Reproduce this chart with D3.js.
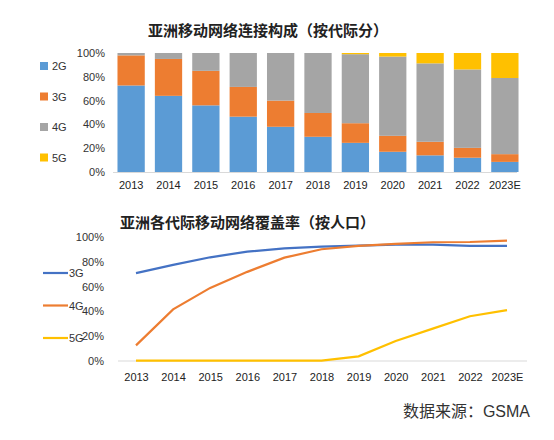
<!DOCTYPE html>
<html><head><meta charset="utf-8">
<script src="https://cdn.jsdelivr.net/npm/d3@7"></script>
<style>body{margin:0;background:#fff}text{font-family:"Liberation Sans","Noto Sans CJK SC",sans-serif}</style>
</head><body>
<script>
const years = ["2013","2014","2015","2016","2017","2018","2019","2020","2021","2022","2023E"];
const share2G = [72.7,64,56,46.5,38,29.6,24.5,17,14,12,8.5];
const share3G = [25.3,31,29,25,22,20,16.5,13.4,11.4,8.3,6.5];
const share4G = [2,5,15,28.5,40,50.4,58,66.6,65.9,65.9,64];
const share5G = [0,0,0,0,0,0,1,3,8.7,13.8,21];
const cov3G = [71,77.6,83.8,88.4,91,92.4,93.2,94,94,93,93];
const cov4G = [12.4,41.6,59,72,83.5,90.3,93,94.6,96,96.2,97.3];
const cov5G = [0,0,0,0,0,0,3.5,16,26,36,41];
const pctTicks = [0,20,40,60,80,100];
const colors = {"2G":"#5b9bd5","3G":"#ed7d31","4G":"#a5a5a5","5G":"#ffc000"};

const W=554,H=440;
const svg=d3.select("body").append("svg").attr("width",W).attr("height",H);

// top: stacked bars
svg.append("text").attr("x",268).attr("y",36).attr("text-anchor","middle")
  .attr("font-size",15).attr("font-weight","bold").attr("fill","#222").text("亚洲移动网络连接构成（按代际分）");
const x1=d3.scaleBand().domain(years).range([113,523]).paddingInner(0.27).paddingOuter(0.12);
const y1=d3.scaleLinear().domain([0,100]).range([172,53]);
svg.append("g").attr("transform","translate(108,0)")
  .call(d3.axisLeft(y1).tickValues(pctTicks).tickFormat(d=>d+"%").tickSize(0))
  .call(g=>g.select(".domain").remove())
  .call(g=>g.selectAll("text").attr("font-size",11).attr("fill","#333"));
const stackData=years.map((y,i)=>({year:y,"2G":share2G[i],"3G":share3G[i],"4G":share4G[i],"5G":share5G[i]}));
const keys=["2G","3G","4G","5G"];
const series=d3.stack().keys(keys)(stackData);
svg.append("g").selectAll("g").data(series).join("g").attr("fill",d=>colors[d.key])
  .selectAll("rect").data(d=>d).join("rect")
  .attr("x",d=>x1(d.data.year)).attr("width",x1.bandwidth())
  .attr("y",d=>y1(d[1])).attr("height",d=>y1(d[0])-y1(d[1]));
svg.append("line").attr("x1",113).attr("x2",517).attr("y1",172.5).attr("y2",172.5).attr("stroke","#d9d9d9");
svg.append("g").attr("transform","translate(0,172)")
  .call(d3.axisBottom(x1).tickSize(0).tickPadding(9))
  .call(g=>g.select(".domain").remove())
  .call(g=>g.selectAll("text").attr("font-size",11).attr("fill","#222"));
const leg=svg.append("g").selectAll("g").data(keys).join("g")
  .attr("transform",(d,i)=>`translate(44,${66+i*30.5})`);
leg.append("rect").attr("x",-4).attr("y",-4).attr("width",8).attr("height",8).attr("fill",d=>colors[d]);
leg.append("text").attr("x",8).attr("y",4).attr("font-size",11).attr("fill","#333").text(d=>d);

// bottom: coverage lines
svg.append("text").attr("x",120).attr("y",228).attr("font-size",15).attr("font-weight","bold")
  .attr("fill","#222").text("亚洲各代际移动网络覆盖率（按人口）");
const x2=d3.scalePoint().domain(years).range([136,507]);
const y2=d3.scaleLinear().domain([0,100]).range([360.7,237.3]);
svg.append("g").attr("transform","translate(107,0)")
  .call(d3.axisLeft(y2).tickValues(pctTicks).tickFormat(d=>d+"%").tickSize(0))
  .call(g=>g.select(".domain").remove())
  .call(g=>g.selectAll("text").attr("font-size",11).attr("fill","#333"));
svg.append("line").attr("x1",118).attr("x2",527).attr("y1",361).attr("y2",361).attr("stroke","#d9d9d9");
svg.append("g").attr("transform","translate(0,361)")
  .call(d3.axisBottom(x2).tickSize(0).tickPadding(12))
  .call(g=>g.select(".domain").remove())
  .call(g=>g.selectAll("text").attr("font-size",11).attr("fill","#222"));
const lines=[["3G",cov3G,"#4472c4"],["4G",cov4G,"#ed7d31"],["5G",cov5G,"#ffc000"]];
const line=d3.line().x((d,i)=>x2(years[i])).y(d=>y2(d));
lines.forEach(([k,v,c],i)=>{
  svg.append("path").datum(v).attr("d",line).attr("fill","none").attr("stroke",c).attr("stroke-width",2.2);
  const ly=273+i*32.5;
  svg.append("line").attr("x1",43).attr("x2",68).attr("y1",ly).attr("y2",ly).attr("stroke",c).attr("stroke-width",2.2);
  svg.append("text").attr("x",69).attr("y",ly+4).attr("font-size",11).attr("fill","#333").text(k);
});

svg.append("text").attr("x",530).attr("y",417).attr("text-anchor","end").attr("font-size",16)
  .attr("font-family","'Liberation Serif','Noto Serif CJK SC','Noto Sans CJK SC',serif").attr("fill","#333").text("数据来源：GSMA");
</script>
</body></html>
